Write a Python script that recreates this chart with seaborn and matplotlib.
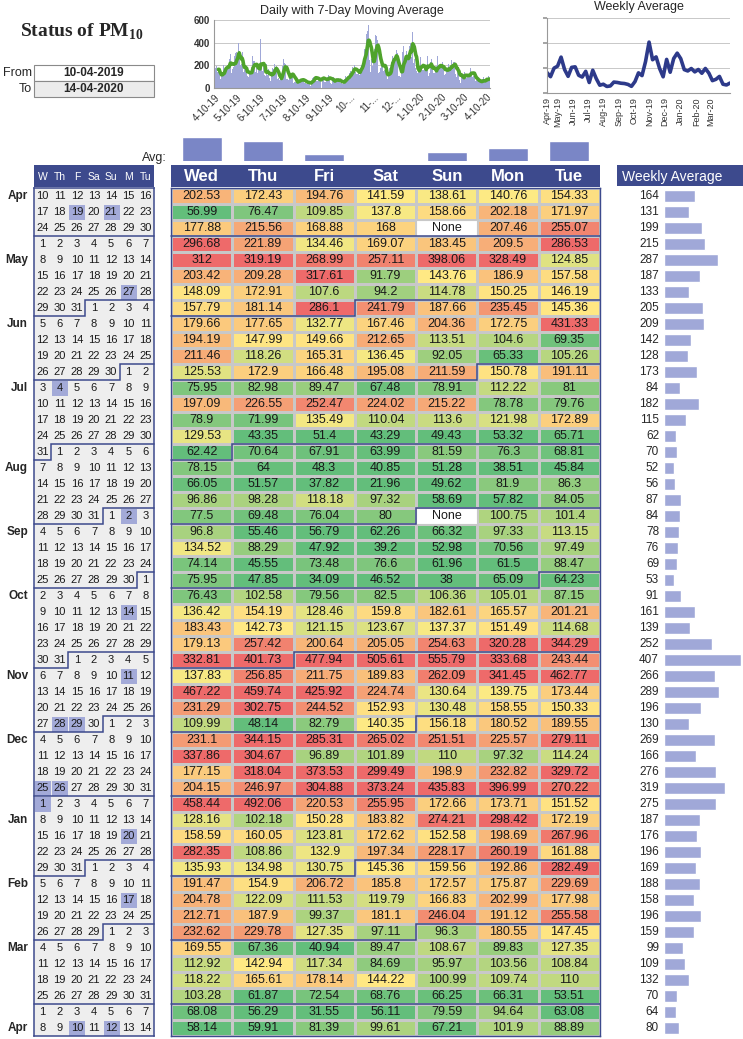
import numpy as np
import pandas as pd
import matplotlib
matplotlib.use('Agg')
import matplotlib.pyplot as plt
import seaborn as sns
from matplotlib.colors import LinearSegmentedColormap, TwoSlopeNorm, ListedColormap

sns.set_theme(style='white')
plt.rcParams['font.family'] = ['Liberation Sans', 'DejaVu Sans']
plt.rcParams['mathtext.fontset'] = 'custom'
plt.rcParams['mathtext.rm'] = 'Liberation Serif'
plt.rcParams['mathtext.bf'] = 'Liberation Serif:bold'

# ---------------------------------------------------------------------------
# dados
# ---------------------------------------------------------------------------
start_date = '2019-04-10'
from_text = '10-04-2019'
to_text = '14-04-2020'
day_names = ['Wed', 'Thu', 'Fri', 'Sat', 'Sun', 'Mon', 'Tue']
cal_header = ['W', 'Th', 'F', 'Sa', 'Su', 'M', 'Tu']

nan = np.nan
wed = [202.53, 56.99, 177.88, 296.68, 312, 203.42, 148.09, 157.79, 179.66, 194.19, 211.46, 125.53, 75.95,
       197.09, 78.9, 129.53, 62.42, 78.15, 66.05, 96.86, 77.5, 96.8, 134.52, 74.14, 75.95, 76.43, 136.42,
       183.43, 179.13, 332.81, 137.83, 467.22, 231.29, 109.99, 231.1, 337.86, 177.15, 204.15, 458.44, 128.16,
       158.59, 282.35, 135.93, 191.47, 204.78, 212.71, 232.62, 169.55, 112.92, 118.22, 103.28, 68.08, 58.14]
thu = [172.43, 76.47, 215.56, 221.89, 319.19, 209.28, 172.91, 181.14, 177.65, 147.99, 118.26, 172.9, 82.98,
       226.55, 71.99, 43.35, 70.64, 64, 51.57, 98.28, 69.48, 55.46, 88.29, 45.55, 47.85, 102.58, 154.19,
       142.73, 257.42, 401.73, 256.85, 459.74, 302.75, 48.14, 344.15, 304.67, 318.04, 246.97, 492.06, 102.18,
       160.05, 108.86, 134.98, 154.9, 122.09, 187.9, 229.78, 67.36, 142.94, 165.61, 61.87, 56.29, 59.91]
fri = [194.76, 109.85, 168.88, 134.46, 268.99, 317.61, 107.6, 286.1, 132.77, 149.66, 165.31, 166.48, 89.47,
       252.47, 135.49, 51.4, 67.91, 48.3, 37.82, 118.18, 76.04, 56.79, 47.92, 73.48, 34.09, 79.56, 128.46,
       121.15, 200.64, 477.94, 211.75, 425.92, 244.52, 82.79, 285.31, 96.89, 373.53, 304.88, 220.53, 150.28,
       123.81, 132.9, 130.75, 206.72, 111.53, 99.37, 127.35, 40.94, 117.34, 178.14, 72.54, 31.55, 81.39]
sat = [141.59, 137.8, 168, 169.07, 257.11, 91.79, 94.2, 241.79, 167.46, 212.65, 136.45, 195.08, 67.48,
       224.02, 110.04, 43.29, 63.99, 40.85, 21.96, 97.32, 80, 62.26, 39.2, 76.6, 46.52, 82.5, 159.8,
       123.67, 205.05, 505.61, 189.83, 224.74, 152.93, 140.35, 265.02, 101.89, 299.49, 373.24, 255.95, 183.82,
       172.62, 197.34, 145.36, 185.8, 119.79, 181.1, 97.11, 89.47, 84.69, 144.22, 68.76, 56.11, 99.61]
sun = [138.61, 158.66, nan, 183.45, 398.06, 143.76, 114.78, 187.66, 204.36, 113.51, 92.05, 211.59, 78.91,
       215.22, 113.6, 49.43, 81.59, 51.28, 49.62, 58.69, nan, 66.32, 52.98, 61.96, 38, 106.36, 182.61,
       137.37, 254.63, 555.79, 262.09, 130.64, 130.48, 156.18, 251.51, 110, 198.9, 435.83, 172.66, 274.21,
       152.58, 228.17, 159.56, 172.57, 166.83, 246.04, 96.3, 108.67, 95.97, 100.99, 66.25, 79.59, 67.21]
mon = [140.76, 202.18, 207.46, 209.5, 328.49, 186.9, 150.25, 235.45, 172.75, 104.6, 65.33, 150.78, 112.22,
       78.78, 121.98, 53.32, 76.3, 38.51, 81.9, 57.82, 100.75, 97.33, 70.56, 61.5, 65.09, 105.01, 165.57,
       151.49, 320.28, 333.68, 341.45, 139.75, 158.55, 180.52, 225.57, 97.32, 232.82, 396.99, 173.71, 298.42,
       198.69, 260.19, 192.86, 175.87, 202.99, 191.12, 180.55, 89.83, 103.56, 109.74, 66.31, 94.64, 101.9]
tue = [154.33, 171.97, 255.07, 286.53, 124.85, 157.58, 146.19, 145.36, 431.33, 69.35, 105.26, 191.11, 81,
       79.76, 172.89, 65.71, 68.81, 45.84, 86.3, 84.05, 101.4, 113.15, 97.49, 88.47, 64.23, 87.15, 201.21,
       114.68, 344.29, 243.44, 462.77, 173.44, 150.33, 189.55, 279.11, 114.24, 329.72, 270.22, 151.52, 172.19,
       267.96, 161.88, 282.49, 229.69, 177.98, 255.58, 147.45, 127.35, 108.84, 110, 53.51, 63.08, 88.89]

holidays = ['2019-04-19', '2019-04-21', '2019-05-27', '2019-07-04', '2019-09-02', '2019-10-14',
            '2019-11-11', '2019-11-28', '2019-11-29', '2019-12-25', '2019-12-26', '2020-01-01',
            '2020-01-20', '2020-02-17', '2020-04-10', '2020-04-12']

daily_tick_labels = ['4-10-19', '5-10-19', '6-10-19', '7-10-19', '8-10-19', '9-10-19', '10-...',
                     '11-...', '12-...', '1-10-20', '2-10-20', '3-10-20', '4-10-20']
weekly_tick_labels = ['Apr-19', 'May-19', 'Jun-19', 'Jul-19', 'Aug-19', 'Sep-19', 'Oct-19',
                      'Nov-19', 'Dec-19', 'Jan-20', 'Feb-20', 'Mar-20']

# cores
navy = '#3d4a8d'
bar_blue = '#a0a8d8'
avg_blue = '#7a86c6'
green_line = '#4fa32c'
week_line = '#2d3a8a'

# ---------------------------------------------------------------------------
# preparação
# ---------------------------------------------------------------------------
table = np.column_stack([wed, thu, fri, sat, sun, mon, tue])
n_weeks = table.shape[0]
dates = pd.date_range(start_date, periods=n_weeks * 7, freq='D')
daily = table.ravel()
moving = pd.Series(daily).rolling(7, min_periods=6).mean()
weekly = np.nanmean(table, axis=1)
col_means = np.nanmean(table, axis=0)

day_num = dates.day.values.reshape(n_weeks, 7)
hol_flag = dates.isin(pd.to_datetime(holidays)).astype(int).reshape(n_weeks, 7)

W, H = 743, 1039
fig = plt.figure(figsize=(W / 100, H / 100), dpi=100)


def px_axes(x0, y0, x1, y1):
    return fig.add_axes([x0 / W, 1 - y1 / H, (x1 - x0) / W, (y1 - y0) / H])


def clean(ax):
    ax.set_xticks([])
    ax.set_yticks([])
    for sp in ax.spines.values():
        sp.set_visible(False)


def month_lines(ax):
    for d in dates[dates.day == 1]:
        r, c = divmod((d - dates[0]).days, 7)
        if c == 0:
            xs, ys = [0, 7], [r, r]
        else:
            xs, ys = [7, c, c, 0], [r, r, r + 1, r + 1]
        ax.plot(xs, ys, color=navy, lw=1.1, clip_on=False, solid_joinstyle='miter')


# título e datas
fig.text(20 / W, 1 - 37 / H, r'Status of PM$_{\mathbf{10}}$', family='Liberation Serif',
         weight='bold', fontsize=14, ha='left', va='baseline')
ax_dt = px_axes(34, 65, 154, 97)
ax_dt.set_xlim(0, 1)
ax_dt.set_ylim(2, 0)
clean(ax_dt)
ax_dt.add_patch(plt.Rectangle((0, 0), 1, 1, fc='white', ec='#8a8a8a', lw=0.8, clip_on=False))
ax_dt.add_patch(plt.Rectangle((0, 1), 1, 1, fc='#ececec', ec='#8a8a8a', lw=0.8, clip_on=False))
ax_dt.text(0.5, 0.5, from_text, ha='center', va='center', weight='bold', fontsize=8.5)
ax_dt.text(0.5, 1.5, to_text, ha='center', va='center', weight='bold', fontsize=8.5)
fig.text(32 / W, 1 - 73 / H, 'From', ha='right', va='center', fontsize=9)
fig.text(32 / W, 1 - 89 / H, 'To', ha='right', va='center', fontsize=9)

# gráfico diário com média móvel de 7 dias
ax_d = px_axes(214, 20, 490, 88)
x_days = np.arange(len(daily))
ax_d.bar(x_days, np.nan_to_num(daily), width=1.0, color=bar_blue, linewidth=0)
sns.lineplot(x=x_days, y=moving.values, ax=ax_d, color=green_line, lw=2.6)
ax_d.set_xlim(-1, len(daily))
ax_d.set_ylim(0, 600)
ax_d.set_yticks([0, 200, 400, 600])
ax_d.set_yticklabels(['0', '200', '400', '600'], fontsize=7, weight='bold', color='#333333')
ax_d.yaxis.grid(True, color='#c8c8c8', lw=0.7)
tick_pos = [(pd.Timestamp(y, m, 10) - dates[0]).days
            for y, m in [(2019, m) for m in range(4, 13)] + [(2020, m) for m in range(1, 5)]]
ax_d.set_xticks(tick_pos)
ax_d.set_xticklabels(daily_tick_labels, rotation=45, ha='right', rotation_mode='anchor',
                     fontsize=7, color='#333333')
ax_d.tick_params(axis='both', length=0, pad=3)
for sp in ['top', 'right']:
    ax_d.spines[sp].set_visible(False)
for sp in ['left', 'bottom']:
    ax_d.spines[sp].set_color('#999999')
    ax_d.spines[sp].set_linewidth(0.8)
ax_d.set_title('Daily with 7-Day Moving Average', fontsize=9, pad=4)

# gráfico da média semanal
ax_w = px_axes(547, 18, 730, 93)
sns.lineplot(x=np.arange(n_weeks), y=weekly, ax=ax_w, color=week_line, lw=2.6)
ax_w.set_xlim(0, n_weeks - 1)
ax_w.set_ylim(0, 600)
ax_w.set_yticks([0, 200, 400, 600])
ax_w.set_yticklabels([])
ax_w.yaxis.grid(True, color='#c8c8c8', lw=0.7)
wpos = [0] + [(pd.Timestamp(y, m, 1) - dates[0]).days / 7
              for y, m in [(2019, m) for m in range(5, 13)] + [(2020, m) for m in range(1, 4)]]
ax_w.set_xticks(wpos)
ax_w.set_xticklabels(weekly_tick_labels, rotation=90, fontsize=6.5, color='#333333')
ax_w.tick_params(axis='x', length=0, pad=3)
ax_w.tick_params(axis='y', length=3, color='#999999', direction='out', left=True)
for sp in ['top', 'right']:
    ax_w.spines[sp].set_visible(False)
for sp in ['left', 'bottom']:
    ax_w.spines[sp].set_color('#999999')
    ax_w.spines[sp].set_linewidth(0.8)
ax_w.set_title('Weekly Average', fontsize=9, pad=6)

# barras de média por dia da semana
ax_a = px_axes(171, 137, 600, 161)
sns.barplot(x=day_names, y=col_means, ax=ax_a, color=avg_blue, width=0.65, saturation=1)
span = col_means.max() - col_means.min()
ax_a.set_ylim(col_means.min() - span / 23, col_means.max())
ax_a.set_xlim(-0.5, 6.5)
clean(ax_a)
ax_a.set_xlabel('')
fig.text(167 / W, 1 - 158 / H, 'Avg:', ha='right', va='center', fontsize=9)

# cabeçalhos
ax_h = px_axes(171, 165, 600, 187)
ax_h.set_facecolor(navy)
ax_h.set_xlim(0, 7)
ax_h.set_ylim(0, 1)
clean(ax_h)
for i, name in enumerate(day_names):
    ax_h.text(i + 0.5, 0.47, name, ha='center', va='center', color='white', weight='bold', fontsize=12)

ax_ch = px_axes(34, 165, 154, 187)
ax_ch.set_facecolor(navy)
ax_ch.set_xlim(0, 7)
ax_ch.set_ylim(0, 1)
clean(ax_ch)
for i, name in enumerate(cal_header):
    ax_ch.text(i + 0.5, 0.45, name, ha='center', va='center', color='white', fontsize=7.5)

ax_wh = px_axes(617, 165, 743, 186)
ax_wh.set_facecolor(navy)
clean(ax_wh)
ax_wh.text(0.04, 0.45, 'Weekly Average', transform=ax_wh.transAxes, ha='left', va='center',
           color='white', fontsize=10)

# calendário
ax_c = px_axes(34, 188, 154, 1036)
sns.heatmap(hol_flag, ax=ax_c, cmap=ListedColormap(['#eeeeee', '#a3aad8']), vmin=0, vmax=1,
            annot=day_num, fmt='d', cbar=False, linewidths=0.4, linecolor='#eeeeee',
            xticklabels=False, yticklabels=False,
            annot_kws={'color': '#1a1a1a', 'fontsize': 8})
month_lines(ax_c)
for sp in ax_c.spines.values():
    sp.set_visible(True)
    sp.set_color(navy)
    sp.set_linewidth(1.1)
for m_start in dates[dates.day == 1].append(pd.DatetimeIndex([dates[0]])):
    eighth = m_start + pd.Timedelta(days=7)
    row = (eighth - dates[0]).days // 7 if eighth in dates else 0
    if m_start == dates[0]:
        row = 0
        if dates[0].day <= 8:
            continue
    fig.text(28 / W, 1 - (188 + (row + 0.5) * 16) / H, m_start.strftime('%b'),
             ha='right', va='center', weight='bold', fontsize=8.5)

# tabela principal (escala de 3 cores em percentis 10/50/90)
ax_t = px_axes(171, 188, 600, 1036)
cmap = LinearSegmentedColormap.from_list('excel3', ['#63BE7B', '#FFEB84', '#EE6A6A'])
p10, p50, p90 = np.nanpercentile(table, [10, 50, 90])
norm = TwoSlopeNorm(vmin=p10, vcenter=p50, vmax=p90)
labels = np.array([['None' if np.isnan(v) else f'{v:g}' for v in row] for row in table])
sns.heatmap(np.clip(table, p10, p90), ax=ax_t, cmap=cmap, norm=norm, annot=labels, fmt='',
            cbar=False, linewidths=0.8, linecolor='#c8c8c8', xticklabels=False, yticklabels=False,
            annot_kws={'color': '#1a1a1a', 'fontsize': 9})
for r, c in zip(*np.where(np.isnan(table))):
    ax_t.add_patch(plt.Rectangle((c, r), 1, 1, fc='white', ec='#c8c8c8', lw=0.8))
    ax_t.text(c + 0.5, r + 0.5, 'None', ha='center', va='center', color='#1a1a1a', fontsize=9)
month_lines(ax_t)
for sp in ax_t.spines.values():
    sp.set_visible(True)
    sp.set_color(navy)
    sp.set_linewidth(1.0)

# média semanal em barras
ax_b = px_axes(630, 188, 743, 1036)
sns.barplot(x=weekly, y=np.arange(n_weeks), orient='h', ax=ax_b, color=bar_blue, width=0.7,
            saturation=1)
ax_b.set_xlim(-179, 416)
ax_b.set_ylim(n_weeks - 0.5, -0.5)
clean(ax_b)
ax_b.set_xlabel('')
ax_b.set_ylabel('')
for i, w in enumerate(weekly):
    ax_b.text(-26, i, f'{int(np.floor(w + 0.5))}', ha='right', va='center', fontsize=8.5)

fig.savefig('out.png', dpi=100)
